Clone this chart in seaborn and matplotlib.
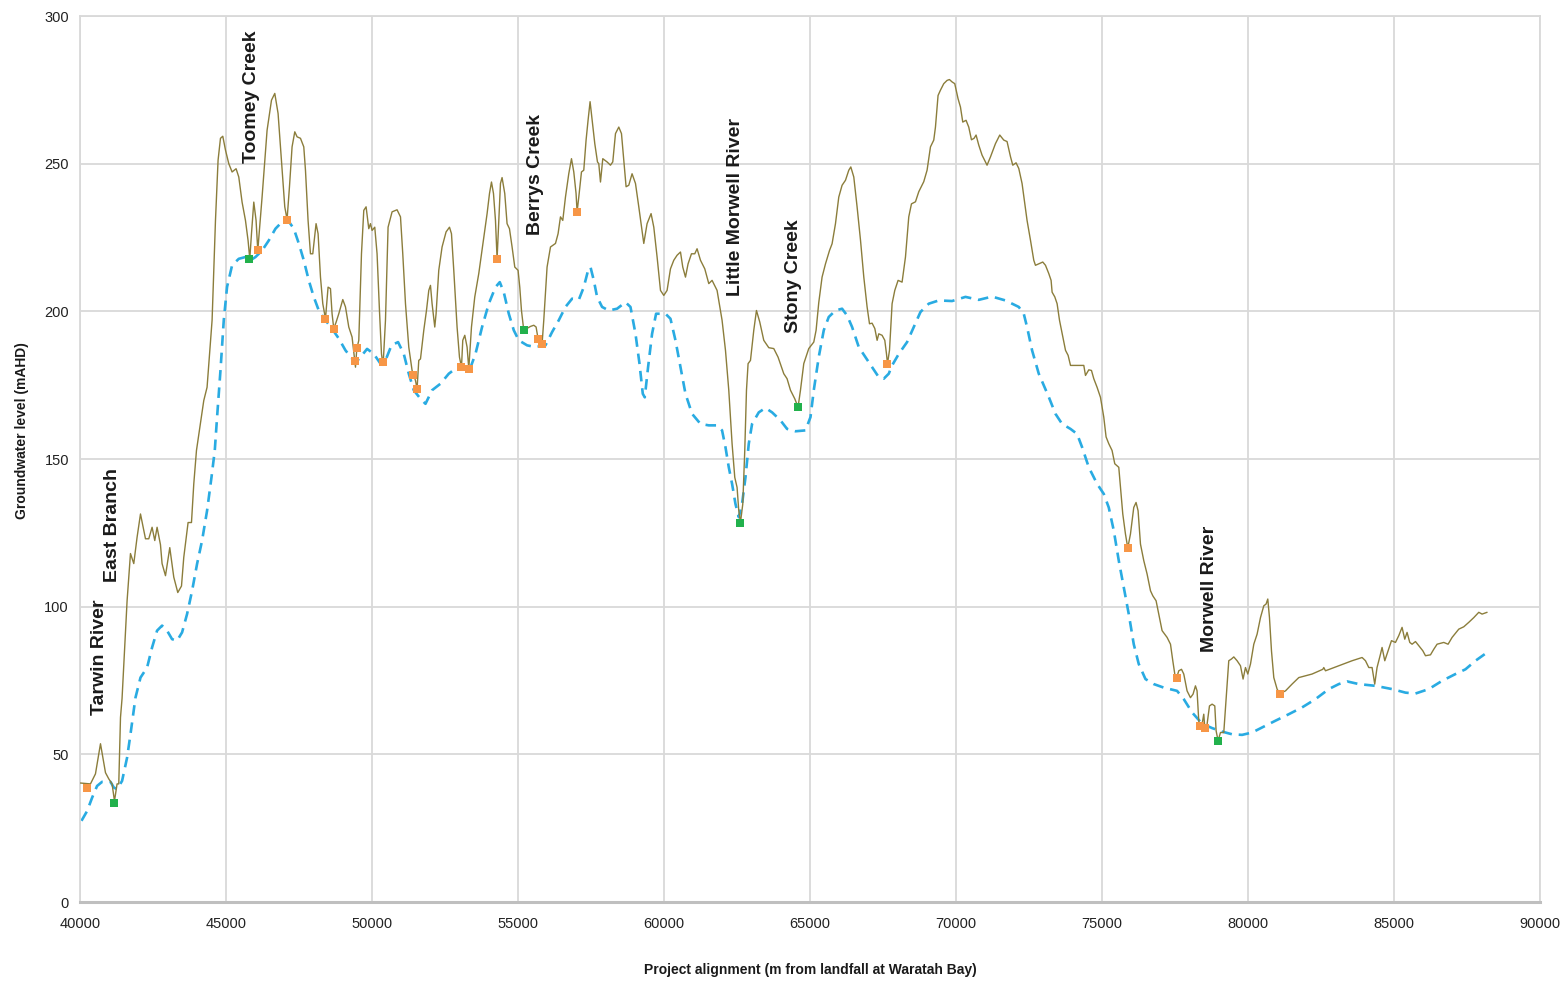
import pandas as pd
import seaborn as sns
from matplotlib import pyplot as plt

# terrain along the alignment (m chainage, mAHD)
terrain_x = [40010, 40356, 40527, 40699, 40870, 40983, 41096, 41178, 41267, 41325, 41384, 41438,
             41610, 41726, 41839, 41952, 42069, 42240, 42353, 42466, 42558, 42637, 42753, 42808,
             42925, 43072, 43209, 43346, 43473, 43551, 43699, 43815, 43894, 43986, 44236, 44349,
             44521, 44637, 44726, 44808, 44887, 44980, 45093, 45206, 45343, 45435, 45548, 45664,
             45753, 45812, 45870, 45949, 46027, 46086, 46233, 46404, 46555, 46668, 46781, 46918,
             47010, 47089, 47171, 47260, 47353, 47432, 47548, 47661, 47719, 47808, 47890, 47969,
             48082, 48151, 48233, 48312, 48404, 48493, 48575, 48630, 48688, 48767, 48860, 48997,
             49089, 49202, 49315, 49432, 49476, 49545, 49637, 49716, 49795, 49887, 49945, 50000,
             50092, 50171, 50253, 50322, 50377, 50459, 50548, 50685, 50856, 50973, 51051, 51144,
             51257, 51370, 51486, 51541, 51599, 51658, 51771, 51863, 51942, 52000, 52055, 52147,
             52192, 52284, 52397, 52534, 52651, 52719, 52798, 52911, 52993, 53062, 53106, 53175,
             53254, 53312, 53404, 53517, 53654, 53826, 53939, 54021, 54089, 54158, 54226, 54281,
             54339, 54397, 54452, 54544, 54623, 54705, 54795, 54887, 55000, 55058, 55116, 55195,
             55425, 55538, 55617, 55685, 55767, 55822, 55880, 55993, 56110, 56281, 56370, 56452,
             56531, 56623, 56736, 56829, 56908, 56986, 57021, 57079, 57171, 57250, 57329, 57398,
             57466, 57535, 57627, 57719, 57764, 57822, 57901, 58048, 58164, 58243, 58336, 58449,
             58541, 58620, 58699, 58791, 58904, 59021, 59134, 59305, 59418, 59555, 59648, 59761,
             59877, 59990, 60103, 60219, 60332, 60445, 60562, 60640, 60733, 60822, 60938, 61051,
             61130, 61247, 61394, 61531, 61644, 61815, 61931, 61986, 62103, 62216, 62329, 62421,
             62500, 62558, 62616, 62695, 62763, 62822, 62877, 62959, 63072, 63164, 63277, 63414,
             63586, 63757, 63904, 64099, 64212, 64329, 64476, 64589, 64671, 64784, 64955, 65127,
             65206, 65298, 65411, 65528, 65665, 65754, 65870, 65983, 66096, 66213, 66326, 66395,
             66497, 66610, 66727, 66840, 66953, 67035, 67124, 67217, 67296, 67353, 67466, 67559,
             67617, 67651, 67720, 67809, 67901, 68014, 68151, 68267, 68380, 68472, 68609, 68722,
             68893, 69007, 69123, 69236, 69294, 69383, 69465, 69578, 69691, 69773, 69862, 69955,
             70068, 70150, 70229, 70342, 70434, 70527, 70616, 70685, 70777, 70890, 71061, 71178,
             71349, 71496, 71633, 71746, 71863, 71942, 72055, 72147, 72260, 72353, 72431, 72548,
             72661, 72719, 72832, 72969, 73062, 73175, 73254, 73289, 73381, 73460, 73542, 73655,
             73748, 73837, 73919, 74032, 74203, 74374, 74432, 74545, 74637, 74716, 74829, 74945,
             74980, 75058, 75137, 75229, 75342, 75435, 75572, 75630, 75709, 75801, 75880, 75972,
             76085, 76164, 76233, 76315, 76428, 76541, 76658, 76737, 76850, 76942, 77055, 77227,
             77343, 77422, 77490, 77549, 77627, 77720, 77798, 77911, 78027, 78116, 78198, 78253,
             78311, 78345, 78424, 78483, 78517, 78596, 78678, 78768, 78860, 78905, 78973, 79055,
             79168, 79281, 79339, 79432, 79511, 79624, 79740, 79829, 79911, 79990, 80083, 80196,
             80309, 80425, 80538, 80617, 80675, 80733, 80802, 80881, 80994, 81086, 81281, 81507,
             81737, 82192, 82559, 82593, 82651, 83107, 83562, 83905, 84021, 84134, 84247, 84338,
             84417, 84534, 84589, 84682, 84795, 84911, 85048, 85161, 85274, 85366, 85445, 85538,
             85617, 85733, 85846, 85983, 86076, 86247, 86360, 86473, 86702, 86850, 86987, 87216,
             87387, 87558, 87729, 87901, 88014, 88185]
terrain_y = [40.3, 40.0, 43.4, 53.6, 43.8, 41.7, 40.0, 34.2, 40.0, 40.0, 62.5, 69.0,
             102.0, 118.0, 114.6, 123.5, 131.4, 123.0, 123.0, 126.9, 122.4, 126.9, 121.0, 114.6,
             110.5, 120.0, 110.0, 104.8, 107.0, 116.7, 128.5, 128.5, 141.6, 152.9, 169.8, 174.3,
             197.0, 230.8, 251.2, 258.6, 259.3, 254.6, 250.0, 247.2, 248.3, 245.5, 237.0, 230.8,
             224.0, 217.8, 226.3, 237.0, 230.8, 220.6, 238.7, 261.3, 271.5, 273.8, 267.0, 247.8,
             235.4, 231.1, 242.2, 255.7, 260.8, 259.1, 258.6, 255.7, 247.8, 230.8, 219.5, 219.5,
             229.7, 226.3, 211.6, 202.6, 197.5, 208.2, 207.7, 199.2, 194.2, 196.3, 199.2, 204.0,
             201.5, 194.7, 191.3, 181.1, 187.3, 190.2, 219.5, 234.2, 235.4, 228.0, 229.7, 227.4,
             228.5, 219.5, 200.3, 185.6, 181.7, 197.0, 228.5, 233.7, 234.4, 232.0, 219.5, 202.6,
             187.9, 180.0, 176.6, 173.8, 183.4, 183.9, 193.6, 200.3, 207.1, 208.8, 202.6, 194.7,
             199.2, 213.9, 221.8, 226.9, 228.5, 226.3, 213.9, 194.7, 184.5, 181.1, 190.2, 191.9,
             187.9, 180.6, 194.7, 204.9, 212.8, 225.2, 233.1, 239.9, 243.8, 239.9, 230.8, 217.8,
             230.8, 243.3, 245.3, 239.9, 229.7, 228.0, 221.8, 215.0, 213.9, 208.2, 200.3, 193.6,
             194.9, 195.3, 194.7, 190.7, 190.2, 189.0, 197.0, 215.0, 221.8, 223.0, 226.3, 232.0,
             230.8, 238.7, 246.6, 251.7, 247.2, 239.9, 233.7, 238.7, 247.2, 247.8, 258.0, 264.8,
             271.0, 264.8, 256.8, 250.6, 250.0, 243.8, 251.7, 250.6, 249.5, 250.6, 260.2, 262.4,
             260.2, 251.2, 242.2, 242.7, 246.6, 243.3, 235.4, 223.0, 229.7, 233.1, 228.5, 218.4,
             207.1, 205.4, 207.1, 214.4, 217.3, 219.0, 220.1, 215.0, 211.6, 216.1, 219.5, 219.5,
             221.2, 217.3, 214.4, 209.4, 210.5, 207.1, 200.3, 197.0, 186.8, 173.3, 155.2, 143.8,
             140.4, 132.5, 128.5, 134.7, 152.8, 173.3, 182.3, 183.4, 193.6, 200.3, 196.4, 190.2,
             187.7, 187.4, 184.5, 178.9, 177.2, 173.3, 170.4, 167.6, 173.3, 182.3, 187.4, 189.6,
             193.6, 203.0, 211.6, 216.1, 220.6, 222.9, 229.7, 238.7, 242.7, 244.4, 247.8, 248.9,
             245.5, 235.4, 224.1, 211.6, 201.5, 195.8, 196.0, 194.2, 190.2, 192.4, 191.9, 190.2,
             185.6, 182.3, 186.8, 202.6, 207.1, 210.5, 209.9, 218.4, 232.0, 236.4, 237.1, 240.5,
             243.9, 247.8, 255.7, 258.0, 262.4, 273.1, 274.9, 277.1, 278.2, 278.5, 277.7, 277.1,
             272.0, 269.2, 264.1, 264.7, 262.4, 258.1, 258.6, 259.7, 256.3, 252.9, 249.5, 252.3,
             256.8, 259.7, 258.0, 257.5, 252.4, 249.5, 250.3, 248.4, 243.3, 236.5, 230.8, 224.1,
             217.3, 215.6, 216.1, 216.7, 215.6, 212.8, 210.5, 206.5, 204.9, 202.6, 197.0, 191.3,
             186.8, 185.1, 181.7, 181.7, 181.7, 181.7, 178.3, 180.2, 180.0, 177.2, 174.3, 170.9,
             168.8, 164.2, 157.5, 155.2, 152.9, 148.4, 147.2, 140.4, 131.4, 124.6, 119.9, 124.6,
             133.6, 135.3, 132.5, 121.2, 115.6, 111.1, 105.4, 103.7, 102.0, 97.5, 91.9, 89.6,
             87.3, 81.7, 77.2, 75.8, 78.3, 78.8, 77.2, 71.5, 69.2, 70.4, 73.2, 71.5,
             61.4, 59.7, 60.2, 63.6, 59.0, 60.2, 66.4, 67.0, 66.4, 58.0, 54.6, 57.4,
             57.4, 73.8, 81.7, 82.3, 83.0, 81.7, 80.0, 75.5, 79.4, 77.2, 80.6, 87.3,
             90.7, 96.3, 100.3, 100.9, 102.6, 96.3, 85.0, 76.0, 72.1, 70.6, 71.5, 73.8,
             76.0, 77.2, 78.8, 79.4, 78.3, 80.0, 81.7, 82.8, 81.7, 79.4, 79.4, 73.8,
             79.4, 83.9, 86.2, 81.7, 85.1, 88.5, 87.9, 90.2, 93.0, 89.0, 91.3, 87.9,
             87.3, 88.2, 86.8, 85.1, 83.4, 83.7, 85.6, 87.3, 87.9, 87.3, 89.6, 92.4,
             93.2, 94.7, 96.3, 98.1, 97.5, 98.1]

# modelled groundwater level (dashed line)
gw_x = [40048, 40240, 40411, 40582, 40753, 41041, 41154, 41267, 41438, 41610, 41726, 41897,
        42069, 42295, 42466, 42637, 42808, 42979, 43151, 43322, 43493, 43664, 43836, 44007,
        44178, 44349, 44500, 44613, 44692, 44808, 44921, 45034, 45206, 45435, 45664, 45836,
        46007, 46233, 46462, 46692, 46918, 47123, 47319, 47490, 47661, 47832, 48003, 48175,
        48404, 48630, 48860, 49089, 49315, 49452, 49603, 49829, 50058, 50288, 50459, 50664,
        50890, 51086, 51257, 51428, 51658, 51829, 52055, 52342, 52627, 52911, 53199, 53312,
        53541, 53767, 53997, 54226, 54373, 54510, 54682, 54853, 55024, 55308, 55596, 55938,
        56165, 56394, 56623, 56850, 57079, 57250, 57398, 57480, 57593, 57706, 57877, 58106,
        58390, 58678, 58849, 59021, 59158, 59271, 59339, 59452, 59589, 59726, 59877, 60048,
        60219, 60390, 60562, 60733, 60959, 61247, 61531, 61815, 61986, 62103, 62216, 62329,
        62445, 62558, 62671, 62788, 62901, 63014, 63243, 63473, 63699, 63986, 64212, 64500,
        64842, 65014, 65127, 65298, 65469, 65640, 65870, 66096, 66268, 66439, 66668, 66897,
        67124, 67353, 67524, 67695, 67809, 68038, 68322, 68551, 68781, 69065, 69407, 69862,
        70322, 70777, 71233, 71691, 72147, 72318, 72431, 72603, 72832, 73175, 73404, 73630,
        73918, 74144, 74316, 74545, 74829, 75058, 75229, 75400, 75572, 75743, 75914, 76085,
        76256, 76486, 76770, 77113, 77568, 77798, 78083, 78424, 78768, 79110, 79453, 79795,
        80138, 80480, 80939, 81394, 81850, 82308, 82763, 83107, 83392, 83792, 84364, 84933,
        85392, 85733, 86189, 86644, 87103, 87445, 87788, 88185]
gw_y = [27.5, 30.8, 35.3, 39.3, 40.7, 40.7, 38.8, 38.2, 41.0, 48.9, 56.8, 69.2,
        76.0, 79.4, 86.2, 91.9, 93.6, 91.9, 89.0, 88.5, 91.3, 97.5, 105.4, 114.5,
        122.4, 132.5, 143.8, 152.9, 164.2, 180.0, 197.0, 208.3, 215.6, 217.8, 218.4, 217.3,
        218.4, 220.6, 224.0, 228.0, 230.3, 230.8, 228.0, 223.0, 217.3, 210.5, 204.9, 200.3,
        197.0, 194.1, 190.8, 186.8, 184.0, 182.8, 184.5, 187.3, 185.6, 182.3, 183.4, 188.5,
        189.6, 185.6, 178.9, 173.3, 170.4, 168.7, 173.3, 175.5, 178.9, 181.0, 181.1, 179.4,
        185.6, 194.7, 202.6, 208.2, 209.9, 206.5, 199.2, 193.6, 190.2, 188.5, 187.9, 188.5,
        193.0, 197.0, 201.5, 204.3, 203.9, 208.2, 213.9, 215.0, 210.5, 204.9, 201.5, 200.3,
        200.9, 203.1, 201.5, 192.4, 182.3, 172.1, 170.9, 181.1, 192.4, 199.2, 199.2, 199.2,
        197.5, 190.2, 181.1, 172.1, 165.3, 161.9, 161.4, 161.4, 159.7, 154.0, 147.2, 141.6,
        134.8, 130.3, 134.8, 143.8, 155.2, 161.9, 165.8, 167.3, 165.8, 163.1, 160.2, 159.4,
        159.7, 164.2, 173.3, 184.6, 193.6, 198.1, 200.3, 200.9, 198.6, 194.7, 187.9, 184.5,
        181.1, 177.7, 177.2, 178.9, 181.7, 185.6, 189.6, 194.7, 199.8, 202.6, 203.7, 203.5,
        204.9, 203.9, 205.0, 203.7, 201.5, 199.2, 194.7, 186.8, 178.9, 171.0, 165.3, 161.9,
        160.2, 158.5, 154.0, 147.2, 141.6, 138.2, 133.6, 125.8, 115.6, 106.5, 97.5, 87.3,
        80.6, 75.5, 73.8, 72.6, 71.5, 68.7, 64.2, 60.4, 58.9, 57.7, 56.8, 56.6,
        57.4, 59.1, 61.4, 63.6, 65.9, 68.7, 72.1, 73.8, 74.7, 73.8, 73.2, 72.1,
        70.9, 70.6, 72.1, 74.9, 77.2, 78.8, 81.7, 84.5]

# orange and green point markers
orange_x = [40240, 46086, 47103, 48404, 48688, 49432, 49476, 50377, 51404, 51541, 53062,
            53312, 54281, 55685, 55822, 57021, 67651, 75880, 77549, 78345, 78517, 81086]
orange_y = [38.5, 220.7, 231.0, 197.5, 194.1, 183.3, 187.5, 182.8, 178.6, 173.6, 181.1,
            180.6, 217.8, 190.7, 189.0, 233.7, 182.3, 119.9, 75.8, 59.7, 59.0, 70.6]
green_x = [41178, 45801, 55195, 62616, 64589, 78973]
green_y = [33.4, 217.7, 193.6, 128.5, 167.6, 54.6]

# watercourse labels
label_names = ['Tarwin River', 'East Branch', 'Toomey Creek', 'Berrys Creek',
               'Little Morwell River', 'Stony Creek', 'Morwell River']
label_x = [40670, 41110, 45870, 55600, 62450, 64430, 78680]
label_y = [63.4, 108.5, 250.4, 226.0, 205.3, 192.8, 84.5]

x_ticks = [40000, 45000, 50000, 55000, 60000, 65000, 70000, 75000, 80000, 85000, 90000]
y_ticks = [0, 50, 100, 150, 200, 250, 300]


terrain = pd.DataFrame({'chainage': terrain_x, 'level': terrain_y})
gw = pd.DataFrame({'chainage': gw_x, 'level': gw_y})
orange = pd.DataFrame({'chainage': orange_x, 'level': orange_y})
green = pd.DataFrame({'chainage': green_x, 'level': green_y})

sns.set_style("white")
plt.rcParams['font.family'] = ['Liberation Sans', 'DejaVu Sans']

fig, ax = plt.subplots(figsize=(15.64, 9.84), dpi=100)
fig.subplots_adjust(left=0.0512, right=0.9847, top=0.9837, bottom=0.0833)

sns.lineplot(data=terrain, x='chainage', y='level', ax=ax, color='#8B7D3B',
             linewidth=1.0, sort=False, estimator=None, zorder=3)
sns.lineplot(data=gw, x='chainage', y='level', ax=ax, color='#29ABE2',
             linewidth=1.9, sort=False, estimator=None, dashes=False, zorder=2)
ax.lines[-1].set_dashes((4, 2.6))
sns.scatterplot(data=orange, x='chainage', y='level', ax=ax, color='#F79646',
                marker='s', s=36, linewidth=0, zorder=4)
sns.scatterplot(data=green, x='chainage', y='level', ax=ax, color='#22B14C',
                marker='s', s=36, linewidth=0, zorder=4)

for name, lx, ly in zip(label_names, label_x, label_y):
    ax.text(lx, ly, name, rotation=90, ha='center', va='bottom',
            fontsize=14, fontweight='bold', color='#1a1a1a', zorder=5)

ax.set_xlim(40000, 90000)
ax.set_ylim(0, 300)
ax.set_xticks(x_ticks)
ax.set_yticks(y_ticks)
ax.set_xticklabels([str(t) for t in x_ticks])
ax.set_yticklabels([str(t) for t in y_ticks])
ax.tick_params(axis='both', length=0, labelsize=10.5, colors='#222222')
ax.tick_params(axis='x', pad=11)
ax.tick_params(axis='y', pad=8)
ax.grid(True, color='#D9D9D9', linewidth=1.3)
ax.set_axisbelow(True)
for side in ['left', 'right', 'top']:
    ax.spines[side].set_color('#D9D9D9')
    ax.spines[side].set_linewidth(1.3)
ax.spines['bottom'].set_color('#BFBFBF')
ax.spines['bottom'].set_linewidth(2.2)

ax.set_xlabel('Project alignment (m from landfall at Waratah Bay)', fontsize=10,
              fontweight='bold', color='#1a1a1a')
ax.set_ylabel('Groundwater level (mAHD)', fontsize=10, fontweight='bold', color='#1a1a1a')
ax.xaxis.set_label_coords(0.5, -0.069)
ax.yaxis.set_label_coords(-0.035, 0.532)

plt.savefig('out.png', dpi=100)
